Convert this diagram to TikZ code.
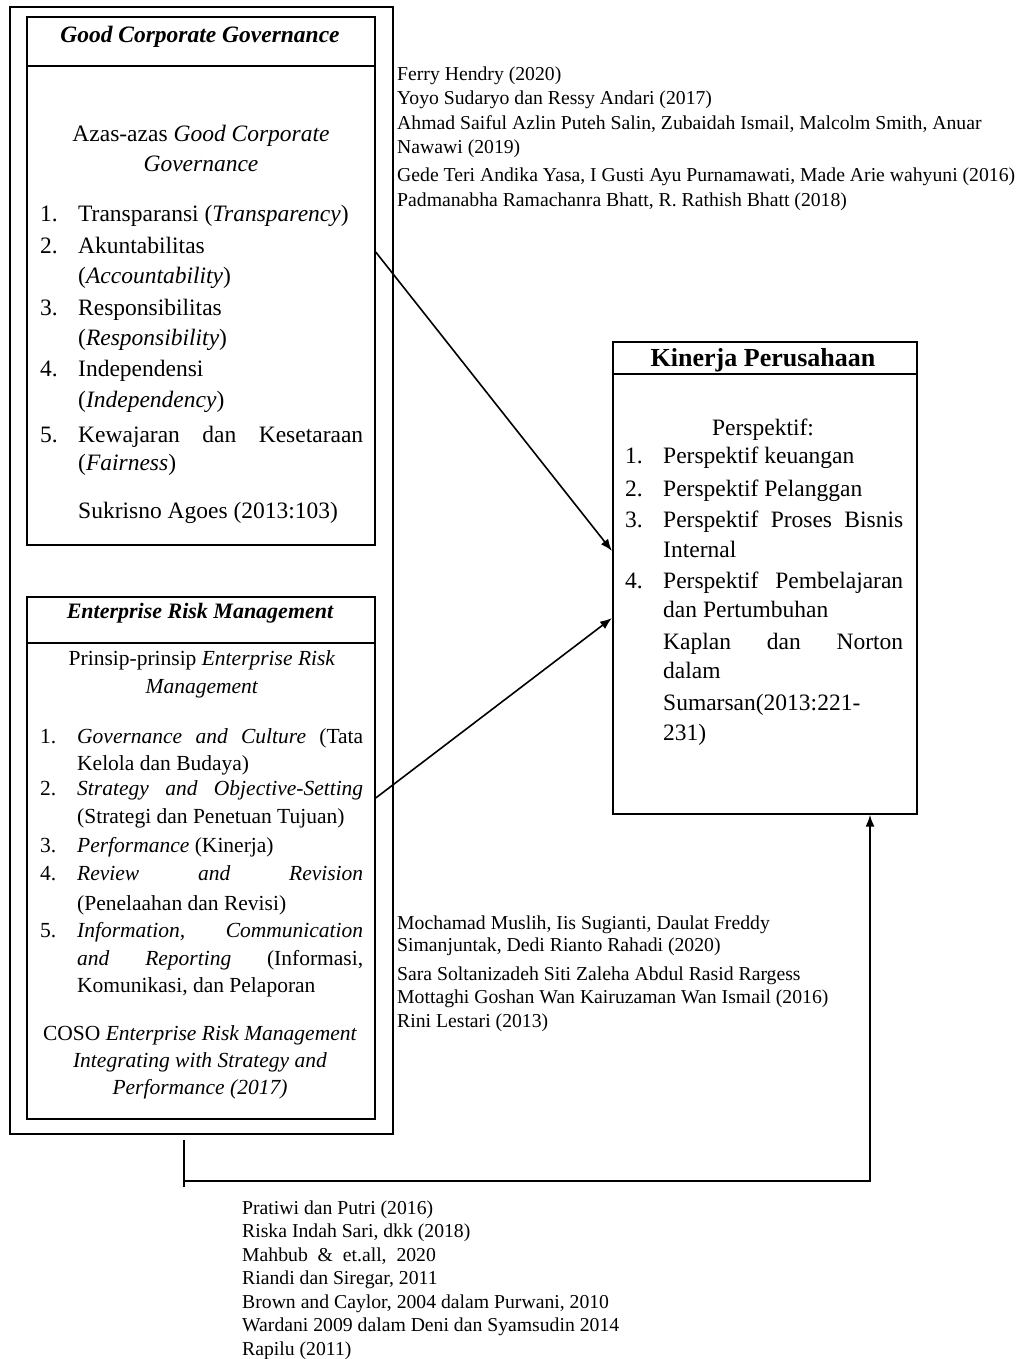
\documentclass[tikz,border=0pt]{standalone}
\usepackage{fontspec}
\setmainfont{Liberation Serif}
\usetikzlibrary{arrows.meta}
\newcommand\fgcg{\fontsize{23.5}{28}\selectfont}
\newcommand\fghd{\fontsize{23.5}{28}\selectfont\bfseries\itshape}
\newcommand\ferm{\fontsize{21.5}{26}\selectfont}
\newcommand\fehd{\fontsize{22}{26}\selectfont\bfseries\itshape}
\newcommand\fkhd{\fontsize{26}{30}\selectfont\bfseries}
\newcommand\fref{\fontsize{19.7}{23}\selectfont}
\newcommand\jus[2]{\makebox[#1pt][s]{#2}}
\begin{document}
\begin{tikzpicture}[x=1pt,y=-1pt,
  box/.style={draw, line width=1.7pt, inner sep=0pt, anchor=north west},
  sep/.style={line width=1.7pt},
  tl/.style={anchor=base west, inner sep=0pt},
  tc/.style={anchor=base, inner sep=0pt},
  gt/.style={tl, font=\fgcg},
  gc/.style={tc, font=\fgcg},
  et/.style={tl, font=\ferm},
  ec/.style={tc, font=\ferm},
  rt/.style={tl, font=\fref},
  link/.style={line width=1.6pt},
  arr/.style={line width=1.6pt, -{Latex[length=12pt,width=9pt]}}]
\useasboundingbox (0,0) rectangle (1020,1359);

% boxes
\node[box, minimum width=383pt, minimum height=1127pt] (outer) at (9,6) {};
\node[box, minimum width=348pt, minimum height=528pt] (gcg) at (26,16) {};
\draw[sep] (26,66) -- (374,66);
\node[box, minimum width=348pt, minimum height=522pt] (erm) at (26,596) {};
\draw[sep] (26,643) -- (374,643);
\node[box, minimum width=304pt, minimum height=472pt] (kin) at (612,341) {};
\draw[sep] (612,374) -- (916,374);

% connectors
\draw[arr] (gcg.east |- 0,252) -- (kin.west |- 0,551);
\draw[arr] (erm.east |- 0,798) -- (kin.west |- 0,618);
\draw[link] (outer.south -| 184,0) ++(0,5) -- (184,1187);
\draw[arr] (184,1181) -- (870,1181) -- (kin.south -| 870,0);

% GCG text
\node[tc, font=\fghd] (g0) at (200,43) {Good Corporate Governance};
\node[gc] (g1) at (201,142) {Azas-azas \textit{Good Corporate}};
\node[gc] (g2) at (201,172) {\textit{Governance}};
\node[gt] (gn1) at (40,222) {1.};
\node[gt] (gi1) at (78,222) {Transparansi (\textit{Transparency})};
\node[gt] (gn2) at (40,253) {2.};
\node[gt] (gi2) at (78,253) {Akuntabilitas};
\node[gt] (gi2b) at (78,283) {(\textit{Accountability})};
\node[gt] (gn3) at (40,315) {3.};
\node[gt] (gi3) at (78,315) {Responsibilitas};
\node[gt] (gi3b) at (78,345) {(\textit{Responsibility})};
\node[gt] (gn4) at (40,376) {4.};
\node[gt] (gi4) at (78,376) {Independensi};
\node[gt] (gi4b) at (78,407) {(\textit{Independency})};
\node[gt] (gn5) at (40,442) {5.};
\node[gt] (gi5) at (78,442) {\jus{285}{Kewajaran dan Kesetaraan}};
\node[gt] (gi5b) at (78,470) {(\textit{Fairness})};
\node[gt] (g3) at (78,518) {Sukrisno Agoes (2013:103)};

% Kinerja text
\node[tc, font=\fkhd] (k0) at (763,366) {Kinerja Perusahaan};
\node[gc] (k1) at (763,435) {Perspektif:};
\node[gt] (kn1) at (625,463) {1.};
\node[gt] (ki1) at (663,463) {Perspektif keuangan};
\node[gt] (kn2) at (625,496) {2.};
\node[gt] (ki2) at (663,496) {Perspektif Pelanggan};
\node[gt] (kn3) at (625,527) {3.};
\node[gt] (ki3) at (663,527) {\jus{240}{Perspektif Proses Bisnis}};
\node[gt] (ki3b) at (663,557) {Internal};
\node[gt] (kn4) at (625,588) {4.};
\node[gt] (ki4) at (663,588) {\jus{240}{Perspektif Pembelajaran}};
\node[gt] (ki4b) at (663,617) {dan Pertumbuhan};
\node[gt] (k2) at (663,649) {\jus{240}{Kaplan dan Norton}};
\node[gt] (k3) at (663,678) {dalam};
\node[gt] (k4) at (663,710) {Sumarsan(2013:221-};
\node[gt] (k5) at (663,740) {231)};

% ERM text
\node[tc, font=\fehd] (e0) at (200,618) {Enterprise Risk Management};
\node[ec] (e1) at (202,665) {Prinsip-prinsip \textit{Enterprise Risk}};
\node[ec] (e2) at (202,693) {\textit{Management}};
\node[et] (en1) at (40,743) {1.};
\node[et] (ei1) at (77,743) {\jus{286}{\textit{Governance and Culture} (Tata}};
\node[et] (ei1b) at (77,770) {Kelola dan Budaya)};
\node[et] (en2) at (40,795) {2.};
\node[et] (ei2) at (77,795) {\jus{286}{\textit{Strategy and Objective-Setting}}};
\node[et] (ei2b) at (77,823) {(Strategi dan Penetuan Tujuan)};
\node[et] (en3) at (40,852) {3.};
\node[et] (ei3) at (77,852) {\textit{Performance} (Kinerja)};
\node[et] (en4) at (40,880) {4.};
\node[et] (ei4) at (77,880) {\jus{286}{\textit{Review and Revision}}};
\node[et] (ei4b) at (77,910) {(Penelaahan dan Revisi)};
\node[et] (en5) at (40,937) {5.};
\node[et] (ei5) at (77,937) {\jus{286}{\textit{Information, Communication}}};
\node[et] (ei5b) at (77,965) {\jus{286}{\textit{and Reporting} (Informasi,}};
\node[et] (ei5c) at (77,992) {Komunikasi, dan Pelaporan};
\node[ec] (e3) at (200,1040) {COSO \textit{Enterprise Risk Management}};
\node[ec] (e4) at (200,1067) {\textit{Integrating with Strategy and}};
\node[ec] (e5) at (200,1094) {\textit{Performance (2017)}};

% references 1
\node[rt] (r11) at (397,81) {Ferry Hendry (2020)};
\node[rt] (r12) at (397,105) {Yoyo Sudaryo dan Ressy Andari (2017)};
\node[rt] (r13) at (397,130) {Ahmad Saiful Azlin Puteh Salin, Zubaidah Ismail, Malcolm Smith, Anuar};
\node[rt] (r14) at (397,154) {Nawawi (2019)};
\node[rt] (r15) at (397,182) {Gede Teri Andika Yasa, I Gusti Ayu Purnamawati, Made Arie wahyuni (2016)};
\node[rt] (r16) at (397,206) {Padmanabha Ramachanra Bhatt, R. Rathish Bhatt (2018)};

% references 2
\node[rt] (r21) at (397,929) {Mochamad Muslih, Iis Sugianti, Daulat Freddy};
\node[rt] (r22) at (397,951) {Simanjuntak, Dedi Rianto Rahadi (2020)};
\node[rt] (r23) at (397,980) {Sara Soltanizadeh Siti Zaleha Abdul Rasid Rargess};
\node[rt] (r24) at (397,1003) {Mottaghi Goshan Wan Kairuzaman Wan Ismail (2016)};
\node[rt] (r25) at (397,1027) {Rini Lestari (2013)};

% references 3
\node[rt] (r31) at (242,1214) {Pratiwi dan Putri (2016)};
\node[rt] (r32) at (242,1237) {Riska Indah Sari, dkk (2018)};
\node[rt] (r33) at (242,1261) {Mahbub \ \& \ et.all, \ 2020};
\node[rt] (r34) at (242,1284) {Riandi dan Siregar, 2011};
\node[rt] (r35) at (242,1308) {Brown and Caylor, 2004 dalam Purwani, 2010};
\node[rt] (r36) at (242,1331) {Wardani 2009 dalam Deni dan Syamsudin 2014};
\node[rt] (r37) at (242,1355) {Rapilu (2011)};
\end{tikzpicture}
\end{document}
